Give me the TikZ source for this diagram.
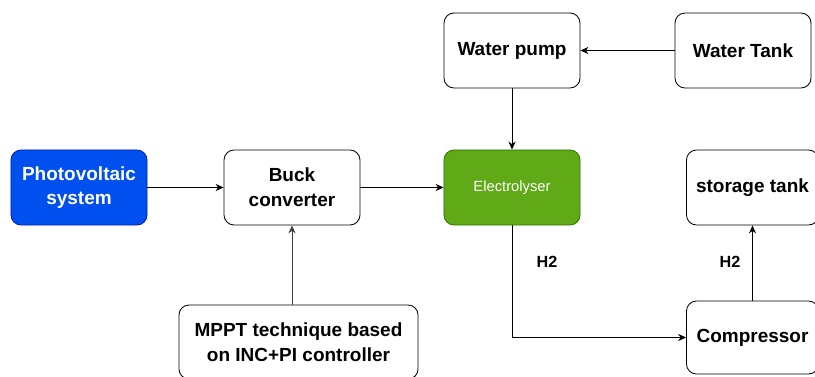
\documentclass[tikz,border=0pt]{standalone}
\usepackage{fontspec}
\setmainfont{Liberation Sans}
\usepackage{xcolor}
\usepackage{tikz}
\usetikzlibrary{arrows.meta}
\definecolor{pvblue}{HTML}{0050EF}
\definecolor{pvedge}{HTML}{001DBC}
\definecolor{elgreen}{HTML}{60A917}
\definecolor{eledge}{HTML}{2D7600}
\tikzstyle{block} = [draw, rounded corners=2.5mm, line width=0.6pt, align=center,
    minimum width=3.4cm, minimum height=1.875cm,
    font=\fontsize{13.5}{17.5}\selectfont\bfseries]
\tikzstyle{flow} = [-{Stealth[length=2mm,width=1.8mm]}, line width=0.6pt]
\tikzstyle{gas} = [font=\fontsize{11.5}{14}\selectfont\bfseries]

\begin{document}
\begin{tikzpicture}[x=0.025cm,y=-0.025cm]
  \useasboundingbox (0,0) rectangle (815,376);

  \draw (79,187.5) node[block,fill=pvblue,draw=pvedge,text=white] (pv) {Photovoltaic\\system};
  \draw (292,187.5) node[block] (buck) {Buck\\converter};
  \draw (512,187.5) node[block,fill=elgreen,draw=eledge,text=white,
    font=\fontsize{10.5}{12}\selectfont] (elec) {Electrolyser};
  \draw (512,50.5) node[block] (pump) {Water pump};
  \draw (743,50.5) node[block] (tank) {Water Tank};
  \draw (752.5,187.5) node[block,minimum width=3.3cm] (store) {storage tank};
  \draw (752.5,337.5) node[block,minimum width=3.3cm,minimum height=1.825cm] (comp) {Compressor};
  \draw (298.5,342) node[block,minimum width=5.975cm,minimum height=1.85cm] (mppt)
    {MPPT technique based\\on INC+PI controller};

  \draw (547,262) node[gas] (h2a) {H2};
  \draw (730,262) node[gas] (h2b) {H2};

  \draw[flow] (pv) -- (buck);
  \draw[flow] (buck) -- (elec);
  \draw[flow] (tank) -- (pump);
  \draw[flow] (pump) -- (elec);
  \draw[flow,draw=black!75] (mppt.north -| buck.south) -- (buck.south);
  \draw[flow] (elec.south) |- (comp.west);
  \draw[flow] (comp.north) -- (store.south);
\end{tikzpicture}
\end{document}
